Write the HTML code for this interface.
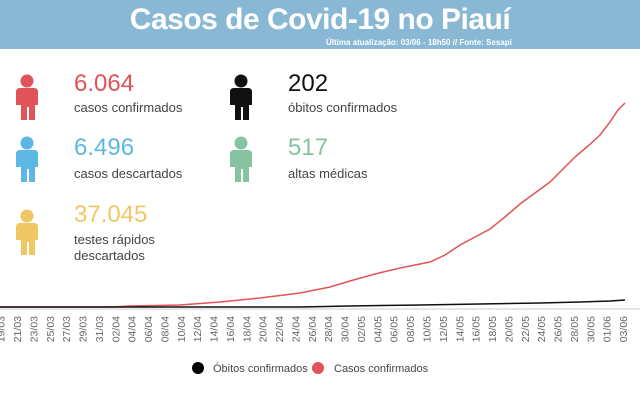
<!DOCTYPE html>
<html><head><meta charset="utf-8"><style>
body{margin:0;width:640px;height:409px;background:#fff;font-family:"Liberation Sans",sans-serif;overflow:hidden;position:relative}
.hdr{position:absolute;left:0;top:0;width:640px;height:49px;background:#88b8d4}
.t{position:absolute;top:3px;left:0;width:640px;text-align:center;color:#fff;font-weight:bold;font-size:30px;letter-spacing:-0.5px}
.s{position:absolute;top:38px;left:326px;color:#fff;font-weight:bold;font-size:8px}
.n{position:absolute;font-size:24px}
.l{position:absolute;font-size:13px;color:#444;line-height:16px}
</style></head><body>
<div class="hdr"><div class="t">Casos de Covid-19 no Piauí</div><div class="s">Última atualização: 03/06 - 18h50 // Fonte: Sesapi</div></div>
<svg width="640" height="409" style="position:absolute;left:0;top:0">
<defs><g id="p"><circle cx="0" cy="-14" r="6.5"/><path d="M-11,-3 q0,-4 4,-4 h14 q4,0 4,4 v13 h-3 v15 h-6 v-13 h-2 v13 h-6 v-15 h-5z"/></g></defs>
<use href="#p" x="27" y="95" fill="#e05358"/>
<use href="#p" x="27" y="157" fill="#5db7e5"/>
<use href="#p" x="27" y="230" fill="#efc865"/>
<use href="#p" x="241" y="95" fill="#111"/>
<use href="#p" x="241" y="157" fill="#86c4a1"/>
<line x1="0" y1="309" x2="640" y2="309" stroke="#ccc" stroke-width="1"/>
<polyline fill="none" stroke="#e05358" stroke-width="1.5" points="0,307 110,307 130,306 180,305 220,302 260,298 300,293 330,287 350,281 375,274 400,268 430,262 445,255 460,245 475,237 490,229 505,217 520,204 535,193 550,182 562,170 575,157 588,146 600,135 610,122 618,110 625,103"/>
<polyline fill="none" stroke="#111" stroke-width="1.5" points="0,307 300,307 350,306 420,305 480,304 540,303 580,302 610,301 625,300"/>
<g font-size="10.5" fill="#666" text-anchor="end">
<text transform="translate(4.6,316) rotate(-90)">19/03</text>
<text transform="translate(21,316) rotate(-90)">21/03</text>
<text transform="translate(37.4,316) rotate(-90)">23/03</text>
<text transform="translate(53.8,316) rotate(-90)">25/03</text>
<text transform="translate(70.1,316) rotate(-90)">27/03</text>
<text transform="translate(86.5,316) rotate(-90)">29/03</text>
<text transform="translate(102.9,316) rotate(-90)">31/03</text>
<text transform="translate(119.3,316) rotate(-90)">02/04</text>
<text transform="translate(135.7,316) rotate(-90)">04/04</text>
<text transform="translate(152,316) rotate(-90)">06/04</text>
<text transform="translate(168.4,316) rotate(-90)">08/04</text>
<text transform="translate(184.8,316) rotate(-90)">10/04</text>
<text transform="translate(201.2,316) rotate(-90)">12/04</text>
<text transform="translate(217.6,316) rotate(-90)">14/04</text>
<text transform="translate(233.9,316) rotate(-90)">16/04</text>
<text transform="translate(250.3,316) rotate(-90)">18/04</text>
<text transform="translate(266.7,316) rotate(-90)">20/04</text>
<text transform="translate(283.1,316) rotate(-90)">22/04</text>
<text transform="translate(299.5,316) rotate(-90)">24/04</text>
<text transform="translate(315.8,316) rotate(-90)">26/04</text>
<text transform="translate(332.2,316) rotate(-90)">28/04</text>
<text transform="translate(348.6,316) rotate(-90)">30/04</text>
<text transform="translate(365,316) rotate(-90)">02/05</text>
<text transform="translate(381.4,316) rotate(-90)">04/05</text>
<text transform="translate(397.7,316) rotate(-90)">06/05</text>
<text transform="translate(414.1,316) rotate(-90)">08/05</text>
<text transform="translate(430.5,316) rotate(-90)">10/05</text>
<text transform="translate(446.9,316) rotate(-90)">12/05</text>
<text transform="translate(463.3,316) rotate(-90)">14/05</text>
<text transform="translate(479.6,316) rotate(-90)">16/05</text>
<text transform="translate(496,316) rotate(-90)">18/05</text>
<text transform="translate(512.4,316) rotate(-90)">20/05</text>
<text transform="translate(528.8,316) rotate(-90)">22/05</text>
<text transform="translate(545.2,316) rotate(-90)">24/05</text>
<text transform="translate(561.5,316) rotate(-90)">26/05</text>
<text transform="translate(577.9,316) rotate(-90)">28/05</text>
<text transform="translate(594.3,316) rotate(-90)">30/05</text>
<text transform="translate(610.7,316) rotate(-90)">01/06</text>
<text transform="translate(627,316) rotate(-90)">03/06</text>
</g>
<circle cx="198" cy="368" r="6" fill="#000"/>
<circle cx="318" cy="368" r="6" fill="#e05358"/>
<g font-size="11" fill="#444"><text x="213" y="372">Óbitos confirmados</text><text x="334" y="372">Casos confirmados</text></g>
</svg>
<div class="n" style="left:74px;top:70px;color:#e05358">6.064</div>
<div class="l" style="left:74px;top:100px">casos confirmados</div>
<div class="n" style="left:74px;top:134px;color:#5db7e5">6.496</div>
<div class="l" style="left:74px;top:166px">casos descartados</div>
<div class="n" style="left:74px;top:201px;color:#efc865">37.045</div>
<div class="l" style="left:74px;top:232px">testes rápidos<br>descartados</div>
<div class="n" style="left:288px;top:70px;color:#111">202</div>
<div class="l" style="left:288px;top:100px">óbitos confirmados</div>
<div class="n" style="left:288px;top:134px;color:#86c4a1">517</div>
<div class="l" style="left:288px;top:166px">altas médicas</div>
</body></html>
